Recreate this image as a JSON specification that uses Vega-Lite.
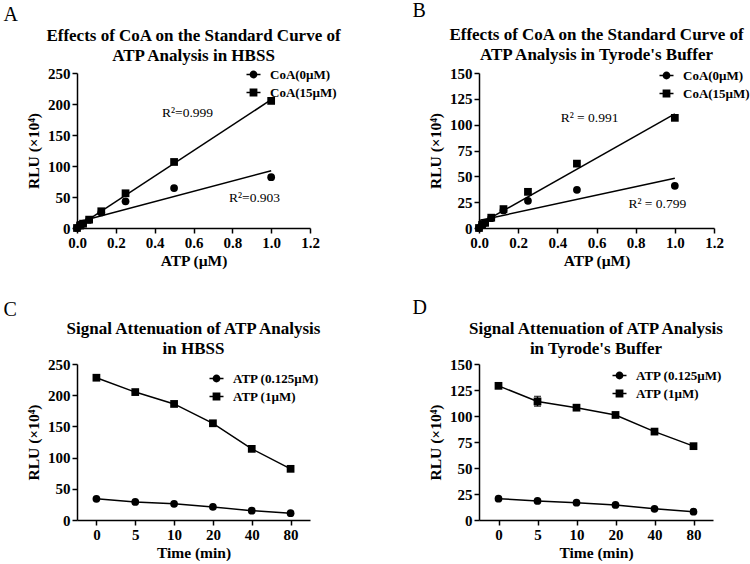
{
  "$schema": "https://vega.github.io/schema/vega-lite/v6.json",
  "background": "white",
  "padding": {"left": 3, "top": 1, "right": 0, "bottom": 0},
  "config": {
    "font": "Liberation Serif",
    "view": {"stroke": null},
    "axis": {"domainColor": "black", "domainWidth": 1.5, "tickColor": "black", "tickWidth": 1.5, "tickSize": 5, "labelFont": "Liberation Serif", "labelFontWeight": "bold", "labelFontSize": 15, "labelColor": "black", "labelPadding": 2, "labelFlush": false, "titleFont": "Liberation Serif", "titleFontWeight": "bold", "titleFontSize": 15.5, "titleColor": "black", "grid": false},
    "axisY": {"titlePadding": 6},
    "axisX": {"titlePadding": 3, "labelAngle": 0},
    "title": {"font": "Liberation Serif", "fontSize": 17, "fontWeight": "bold", "color": "black", "lineHeight": 20},
    "legend": {"title": null, "orient": "none", "symbolSize": 49, "labelFont": "Liberation Serif", "labelFontWeight": "bold", "labelFontSize": 13, "labelColor": "black", "labelOffset": 10, "rowPadding": 4, "padding": 0}
  },
  "datasets": {
    "A": [
      {"series": "CoA(0µM)", "x": 0, "y": 0},
      {"series": "CoA(0µM)", "x": 0.015625, "y": 4},
      {"series": "CoA(0µM)", "x": 0.03125, "y": 7},
      {"series": "CoA(0µM)", "x": 0.0625, "y": 13},
      {"series": "CoA(0µM)", "x": 0.125, "y": 25},
      {"series": "CoA(0µM)", "x": 0.25, "y": 43},
      {"series": "CoA(0µM)", "x": 0.5, "y": 64.5},
      {"series": "CoA(0µM)", "x": 1, "y": 82},
      {"series": "CoA(15µM)", "x": 0, "y": 0},
      {"series": "CoA(15µM)", "x": 0.015625, "y": 4},
      {"series": "CoA(15µM)", "x": 0.03125, "y": 7},
      {"series": "CoA(15µM)", "x": 0.0625, "y": 13.5},
      {"series": "CoA(15µM)", "x": 0.125, "y": 27},
      {"series": "CoA(15µM)", "x": 0.25, "y": 56},
      {"series": "CoA(15µM)", "x": 0.5, "y": 106.5},
      {"series": "CoA(15µM)", "x": 1, "y": 205}
    ],
    "A_r2": [
      {"x": 0.438, "y": 185, "label": "R²=0.999"},
      {"x": 0.783, "y": 48, "label": "R²=0.903"}
    ],
    "B": [
      {"series": "CoA(0µM)", "x": 0, "y": 0},
      {"series": "CoA(0µM)", "x": 0.015625, "y": 3},
      {"series": "CoA(0µM)", "x": 0.03125, "y": 5},
      {"series": "CoA(0µM)", "x": 0.0625, "y": 9.5},
      {"series": "CoA(0µM)", "x": 0.125, "y": 17},
      {"series": "CoA(0µM)", "x": 0.25, "y": 26.3},
      {"series": "CoA(0µM)", "x": 0.5, "y": 37},
      {"series": "CoA(0µM)", "x": 1, "y": 40.8},
      {"series": "CoA(15µM)", "x": 0, "y": 0},
      {"series": "CoA(15µM)", "x": 0.015625, "y": 3},
      {"series": "CoA(15µM)", "x": 0.03125, "y": 5},
      {"series": "CoA(15µM)", "x": 0.0625, "y": 10},
      {"series": "CoA(15µM)", "x": 0.125, "y": 18.3},
      {"series": "CoA(15µM)", "x": 0.25, "y": 35},
      {"series": "CoA(15µM)", "x": 0.5, "y": 62.3},
      {"series": "CoA(15µM)", "x": 1, "y": 106.6}
    ],
    "B_r2": [
      {"x": 0.417, "y": 106.6, "label": "R² = 0.991"},
      {"x": 0.763, "y": 23, "label": "R² = 0.799"}
    ],
    "C": [
      {"series": "ATP (0.125µM)", "time": 0, "y": 34},
      {"series": "ATP (0.125µM)", "time": 5, "y": 29},
      {"series": "ATP (0.125µM)", "time": 10, "y": 26},
      {"series": "ATP (0.125µM)", "time": 20, "y": 21},
      {"series": "ATP (0.125µM)", "time": 40, "y": 15},
      {"series": "ATP (0.125µM)", "time": 80, "y": 11},
      {"series": "ATP (1µM)", "time": 0, "y": 228},
      {"series": "ATP (1µM)", "time": 5, "y": 205},
      {"series": "ATP (1µM)", "time": 10, "y": 186},
      {"series": "ATP (1µM)", "time": 20, "y": 155},
      {"series": "ATP (1µM)", "time": 40, "y": 114},
      {"series": "ATP (1µM)", "time": 80, "y": 82}
    ],
    "D": [
      {"series": "ATP (0.125µM)", "time": 0, "y": 20.5, "lo": 20, "hi": 21},
      {"series": "ATP (0.125µM)", "time": 5, "y": 18.3, "lo": 17.8, "hi": 18.8},
      {"series": "ATP (0.125µM)", "time": 10, "y": 16.7, "lo": 16.2, "hi": 17.2},
      {"series": "ATP (0.125µM)", "time": 20, "y": 14.5, "lo": 14, "hi": 15},
      {"series": "ATP (0.125µM)", "time": 40, "y": 10.8, "lo": 10.3, "hi": 11.3},
      {"series": "ATP (0.125µM)", "time": 80, "y": 8, "lo": 7.5, "hi": 8.5},
      {"series": "ATP (1µM)", "time": 0, "y": 129, "lo": 128, "hi": 130},
      {"series": "ATP (1µM)", "time": 5, "y": 114, "lo": 109.5, "hi": 118.8},
      {"series": "ATP (1µM)", "time": 10, "y": 108, "lo": 107, "hi": 109},
      {"series": "ATP (1µM)", "time": 20, "y": 101, "lo": 100, "hi": 102},
      {"series": "ATP (1µM)", "time": 40, "y": 85, "lo": 84, "hi": 86},
      {"series": "ATP (1µM)", "time": 80, "y": 71, "lo": 70, "hi": 72}
    ]
  },
  "spacing": 70,
  "align": "none",
  "resolve": {"scale": {"shape": "independent"}, "legend": {"shape": "independent"}},
  "hconcat": [
    {
      "spacing": 31,
      "resolve": {"scale": {"shape": "independent"}, "legend": {"shape": "independent"}},
      "vconcat": [
        {
          "title": {"text": "A", "anchor": "start", "fontSize": 20, "fontWeight": "normal", "offset": 2, "dx": -23},
          "vconcat": [
            {
              "width": 233,
              "height": 155,
              "title": {"text": ["Effects of CoA on the Standard Curve of", "ATP Analysis in HBSS"], "frame": "group", "offset": 1},
              "resolve": {"scale": {"shape": "independent"}},
              "encoding": {
                "x": {"field": "x", "type": "quantitative", "scale": {"domain": [0, 1.2], "nice": false}, "axis": {"title": "ATP (µM)", "values": [0, 0.2, 0.4, 0.6, 0.8, 1.0, 1.2], "format": ".1f"}},
                "y": {"field": "y", "type": "quantitative", "scale": {"domain": [0, 250], "nice": false}, "axis": {"title": "RLU (×10⁴)", "values": [0, 50, 100, 150, 200, 250]}}
              },
              "layer": [
                {
                  "data": {"name": "A"},
                  "transform": [{"regression": "y", "on": "x", "groupby": ["series"], "extent": [0, 1]}],
                  "mark": {"type": "line", "color": "black", "strokeWidth": 1.5},
                  "encoding": {"detail": {"field": "series"}}
                },
                {
                  "data": {"name": "A"},
                  "mark": {"type": "point", "filled": true, "color": "black", "opacity": 1, "size": 60},
                  "encoding": {
                    "shape": {"field": "series", "type": "nominal", "scale": {"domain": ["CoA(0µM)", "CoA(15µM)"], "range": ["circle", "square"]}, "legend": null}
                  }
                },
                {
                  "data": {"name": "A"},
                  "transform": [{"filter": "false"}],
                  "mark": {"type": "point", "fill": "black", "stroke": "black", "strokeWidth": 1.5, "opacity": 1},
                  "encoding": {
                    "shape": {"field": "series", "type": "nominal", "scale": {"domain": ["CoA(0µM)", "CoA(15µM)"], "range": ["M-2,0H2M0.9,0A0.9,0.9,0,1,1,-0.9,0A0.9,0.9,0,1,1,0.9,0Z", "M-2,0H2M-0.9,-0.9H0.9V0.9H-0.9Z"]},
                      "legend": {"legendX": 170, "legendY": -5}}
                  }
                },
                {
                  "data": {"name": "A_r2"},
                  "mark": {"type": "text", "align": "left", "baseline": "middle", "font": "Liberation Serif", "fontSize": 13.5, "color": "black"},
                  "encoding": {"text": {"field": "label"}}
                }
              ]
            }
          ]
        },
        {
          "title": {"text": "C", "anchor": "start", "fontSize": 20, "fontWeight": "normal", "offset": 0, "dx": -23},
          "vconcat": [
            {
              "width": 233,
              "height": 156,
              "title": {"text": ["Signal Attenuation of ATP Analysis", "in HBSS"], "frame": "group", "offset": -1},
              "data": {"name": "C"},
              "resolve": {"scale": {"shape": "independent"}},
              "encoding": {
                "x": {"field": "time", "type": "ordinal", "scale": {"type": "point", "padding": 0.5}, "axis": {"title": "Time (min)"}},
                "y": {"field": "y", "type": "quantitative", "scale": {"domain": [0, 250], "nice": false}, "axis": {"title": "RLU (×10⁴)", "values": [0, 50, 100, 150, 200, 250]}}
              },
              "layer": [
                {
                  "mark": {"type": "line", "color": "black", "strokeWidth": 1.5},
                  "encoding": {"detail": {"field": "series"}}
                },
                {
                  "mark": {"type": "point", "filled": true, "color": "black", "opacity": 1, "size": 60},
                  "encoding": {
                    "shape": {"field": "series", "type": "nominal", "scale": {"domain": ["ATP (0.125µM)", "ATP (1µM)"], "range": ["circle", "square"]}, "legend": null}
                  }
                },
                {
                  "transform": [{"filter": "false"}],
                  "mark": {"type": "point", "fill": "black", "stroke": "black", "strokeWidth": 1.5, "opacity": 1},
                  "encoding": {
                    "shape": {"field": "series", "type": "nominal", "scale": {"domain": ["ATP (0.125µM)", "ATP (1µM)"], "range": ["M-2,0H2M0.9,0A0.9,0.9,0,1,1,-0.9,0A0.9,0.9,0,1,1,0.9,0Z", "M-2,0H2M-0.9,-0.9H0.9V0.9H-0.9Z"]},
                      "legend": {"legendX": 133, "legendY": 8}}
                  }
                }
              ]
            }
          ]
        }
      ]
    },
    {
      "spacing": 29,
      "resolve": {"scale": {"shape": "independent"}, "legend": {"shape": "independent"}},
      "vconcat": [
        {
          "title": {"text": "B", "anchor": "start", "fontSize": 20, "fontWeight": "normal", "offset": 5, "dx": -16},
          "vconcat": [
            {
              "width": 235,
              "height": 155,
              "title": {"text": ["Effects of CoA on the Standard Curve of", "ATP Analysis in Tyrode's Buffer"], "frame": "group", "offset": 2},
              "resolve": {"scale": {"shape": "independent"}},
              "encoding": {
                "x": {"field": "x", "type": "quantitative", "scale": {"domain": [0, 1.2], "nice": false}, "axis": {"title": "ATP (µM)", "values": [0, 0.2, 0.4, 0.6, 0.8, 1.0, 1.2], "format": ".1f"}},
                "y": {"field": "y", "type": "quantitative", "scale": {"domain": [0, 150], "nice": false}, "axis": {"title": "RLU (×10⁴)", "values": [0, 25, 50, 75, 100, 125, 150]}}
              },
              "layer": [
                {
                  "data": {"name": "B"},
                  "transform": [{"regression": "y", "on": "x", "groupby": ["series"], "extent": [0, 1]}],
                  "mark": {"type": "line", "color": "black", "strokeWidth": 1.5},
                  "encoding": {"detail": {"field": "series"}}
                },
                {
                  "data": {"name": "B"},
                  "mark": {"type": "point", "filled": true, "color": "black", "opacity": 1, "size": 60},
                  "encoding": {
                    "shape": {"field": "series", "type": "nominal", "scale": {"domain": ["CoA(0µM)", "CoA(15µM)"], "range": ["circle", "square"]}, "legend": null}
                  }
                },
                {
                  "data": {"name": "B"},
                  "transform": [{"filter": "false"}],
                  "mark": {"type": "point", "fill": "black", "stroke": "black", "strokeWidth": 1.5, "opacity": 1},
                  "encoding": {
                    "shape": {"field": "series", "type": "nominal", "scale": {"domain": ["CoA(0µM)", "CoA(15µM)"], "range": ["M-2,0H2M0.9,0A0.9,0.9,0,1,1,-0.9,0A0.9,0.9,0,1,1,0.9,0Z", "M-2,0H2M-0.9,-0.9H0.9V0.9H-0.9Z"]},
                      "legend": {"legendX": 181, "legendY": -4}}
                  }
                },
                {
                  "data": {"name": "B_r2"},
                  "mark": {"type": "text", "align": "left", "baseline": "middle", "font": "Liberation Serif", "fontSize": 13.5, "color": "black"},
                  "encoding": {"text": {"field": "label"}}
                }
              ]
            }
          ]
        },
        {
          "title": {"text": "D", "anchor": "start", "fontSize": 20, "fontWeight": "normal", "offset": 2, "dx": -16},
          "vconcat": [
            {
              "width": 234,
              "height": 156,
              "title": {"text": ["Signal Attenuation of ATP Analysis", "in Tyrode's Buffer"], "frame": "group", "offset": -1},
              "data": {"name": "D"},
              "resolve": {"scale": {"shape": "independent"}},
              "encoding": {
                "x": {"field": "time", "type": "ordinal", "scale": {"type": "point", "padding": 0.5}, "axis": {"title": "Time (min)"}},
                "y": {"field": "y", "type": "quantitative", "scale": {"domain": [0, 150], "nice": false}, "axis": {"title": "RLU (×10⁴)", "values": [0, 25, 50, 75, 100, 125, 150]}}
              },
              "layer": [
                {
                  "mark": {"type": "line", "color": "black", "strokeWidth": 1.5},
                  "encoding": {"detail": {"field": "series"}}
                },
                {
                  "mark": {"type": "errorbar", "color": "black", "thickness": 1.5, "ticks": {"size": 7}},
                  "encoding": {
                    "y": {"field": "lo", "type": "quantitative", "scale": {"domain": [0, 150], "nice": false}, "axis": {"title": "RLU (×10⁴)", "values": [0, 25, 50, 75, 100, 125, 150]}},
                    "y2": {"field": "hi"},
                    "detail": {"field": "series"}
                  }
                },
                {
                  "mark": {"type": "point", "filled": true, "color": "black", "opacity": 1, "size": 60},
                  "encoding": {
                    "shape": {"field": "series", "type": "nominal", "scale": {"domain": ["ATP (0.125µM)", "ATP (1µM)"], "range": ["circle", "square"]}, "legend": null}
                  }
                },
                {
                  "transform": [{"filter": "false"}],
                  "mark": {"type": "point", "fill": "black", "stroke": "black", "strokeWidth": 1.5, "opacity": 1},
                  "encoding": {
                    "shape": {"field": "series", "type": "nominal", "scale": {"domain": ["ATP (0.125µM)", "ATP (1µM)"], "range": ["M-2,0H2M0.9,0A0.9,0.9,0,1,1,-0.9,0A0.9,0.9,0,1,1,0.9,0Z", "M-2,0H2M-0.9,-0.9H0.9V0.9H-0.9Z"]},
                      "legend": {"legendX": 134, "legendY": 5}}
                  }
                }
              ]
            }
          ]
        }
      ]
    }
  ]
}
